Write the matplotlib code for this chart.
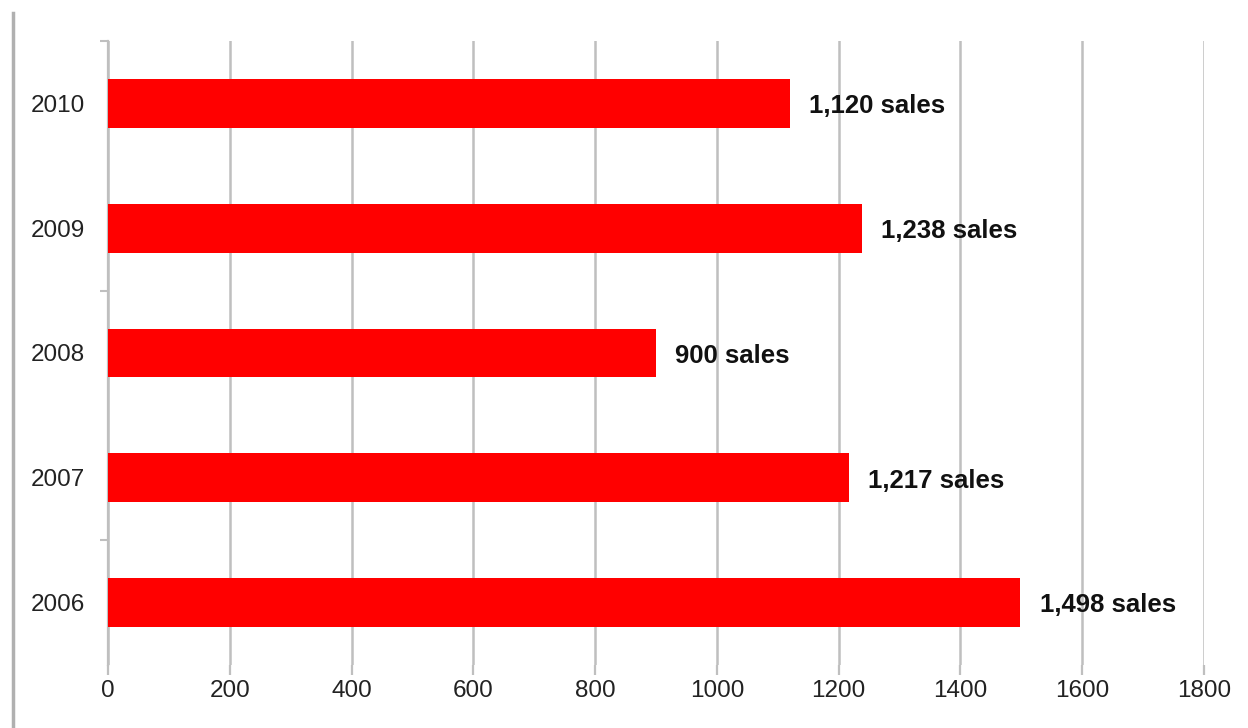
import matplotlib
matplotlib.use("Agg")
import matplotlib.pyplot as plt
from matplotlib.lines import Line2D

years = ["2006", "2007", "2008", "2009", "2010"]
sales = [1498, 1217, 900, 1238, 1120]
xticks = [0, 200, 400, 600, 800, 1000, 1200, 1400, 1600, 1800]

plt.rcParams['font.family'] = ['Liberation Sans', 'DejaVu Sans']

fig = plt.figure(figsize=(12.48, 7.28), dpi=100)
W, H = 1248, 728
ax = fig.add_axes([108 / W, 1 - 665 / H, (1204 - 108) / W, (665 - 41) / H])

grid_c = "#bfbfbf"
ypos = list(range(len(years)))
ax.barh(ypos, sales, height=0.39, color="#ff0000", zorder=3)

for y, v in zip(ypos, sales):
    ax.annotate(f"{v:,} sales", xy=(v, y), xytext=(14, -2), textcoords="offset points",
                ha="left", va="center", fontsize=18.5, fontweight="bold", color="#111111", zorder=4)

ax.set_xlim(0, 1800)
ax.set_ylim(-0.5, 4.5)
ax.set_xticks(xticks)
ax.set_xticklabels([str(t) for t in xticks], fontsize=17.5, color="#222222")
ax.set_yticks(ypos)
ax.set_yticklabels(years, fontsize=17.5, color="#222222")
ax.tick_params(axis="y", length=0, pad=16.5)
ax.tick_params(axis="x", length=7, width=1.6, color=grid_c, pad=4)
ax.set_yticks([0.5, 2.5, 4.5], minor=True)
ax.tick_params(axis="y", which="minor", length=6, width=1.5, color=grid_c)

ax.xaxis.grid(True, color=grid_c, linewidth=1.8, zorder=0)
for s in ["top", "right", "bottom"]:
    ax.spines[s].set_visible(False)
ax.spines["left"].set_color(grid_c)
ax.spines["left"].set_linewidth(1.6)

# left border line of the figure
fig.add_artist(Line2D([12.5 / W, 12.5 / W], [0, 1 - 13 / H], transform=fig.transFigure,
                      color="#b0b0b0", linewidth=2.5))

fig.savefig("out.png", dpi=100, facecolor="white")
